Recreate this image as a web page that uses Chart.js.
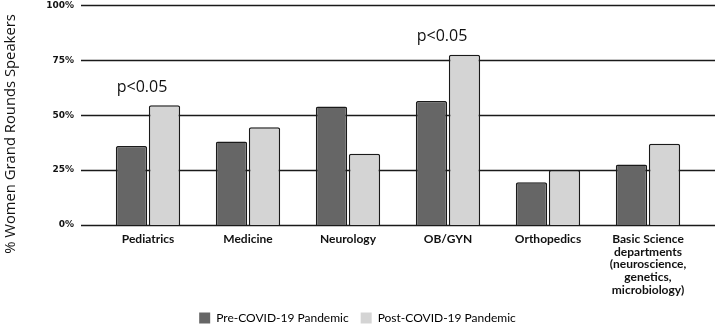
<!DOCTYPE html>
<html>
<head>
<meta charset="utf-8">
<script src="https://cdn.jsdelivr.net/npm/chart.js@4"></script>
<style>
  html, body { margin: 0; padding: 0; background: #fff; }
  #wrap { width: 715px; height: 324px; }
</style>
</head>
<body>
<div id="wrap"><canvas id="speakersChart"></canvas></div>
<script>
// data
var categories = ['Pediatrics', 'Medicine', 'Neurology', 'OB/GYN', 'Orthopedics',
    ['Basic Science', 'departments', '(neuroscience,', 'genetics,', 'microbiology)']];
var preCovid = [36, 38, 54, 56.5, 19.5, 27.5];
var postCovid = [54.5, 44.5, 32.5, 77.5, 25, 37];
var yTicks = [0, 25, 50, 75, 100];
var significance = ['p<0.05', '', '', 'p<0.05', '', ''];

// grid lines run past the plot area, like the original figure
var fullGrid = {
    id: 'fullGrid',
    beforeDatasetsDraw: function (chart) {
        var ctx = chart.ctx, y = chart.scales.y;
        ctx.save();
        ctx.strokeStyle = '#1a1a1a';
        ctx.lineWidth = 1.7;
        yTicks.forEach(function (t) {
            var py = Math.round(y.getPixelForValue(t)) + 0.5;
            ctx.beginPath();
            ctx.moveTo(81, py);
            ctx.lineTo(chart.width, py);
            ctx.stroke();
        });
        ctx.restore();
    }
};

var extras = {
    id: 'extras',
    afterDatasetsDraw: function (chart) {
        var ctx = chart.ctx, x = chart.scales.x, y = chart.scales.y;
        ctx.save();
        ctx.fillStyle = '#111';
        ctx.font = '16px "Open Sans"';
        ctx.textAlign = 'center';
        ctx.textBaseline = 'middle';
        significance.forEach(function (s, i) {
            if (!s) return;
            ctx.fillText(s, x.getPixelForValue(i) - 6, y.getPixelForValue(postCovid[i]) - 18);
        });
        // axis title
        ctx.translate(11, 134);
        ctx.rotate(-Math.PI / 2);
        ctx.font = '14.8px "Open Sans"';
        ctx.fillText('% Women Grand Rounds Speakers', 0, 0);
        ctx.restore();
    }
};

document.addEventListener('DOMContentLoaded', function () {
    var ctx = document.getElementById('speakersChart').getContext('2d');
    new Chart(ctx, {
        type: 'bar',
        data: {
            labels: categories,
            datasets: [{
                label: 'Pre-COVID-19 Pandemic',
                data: preCovid,
                backgroundColor: '#666666',
                borderColor: '#1a1a1a',
                borderWidth: 1.5,
                borderRadius: 2,
                borderSkipped: 'bottom'
            }, {
                label: 'Post-COVID-19 Pandemic',
                data: postCovid,
                backgroundColor: '#d4d4d4',
                borderColor: '#1a1a1a',
                borderWidth: 1.5,
                borderRadius: 2,
                borderSkipped: 'bottom'
            }]
        },
        options: {
            responsive: true,
            maintainAspectRatio: false,
            animation: false,
            layout: { padding: { top: 0, right: 0, bottom: -10, left: 0 } },
            datasets: { bar: { categoryPercentage: 0.66, barPercentage: 0.95 } },
            plugins: {
                legend: {
                    position: 'bottom',
                    labels: {
                        color: '#111',
                        font: { family: 'Lato', size: 12 },
                        boxWidth: 11,
                        boxHeight: 11,
                        padding: 12,
                        generateLabels: function (chart) {
                            return chart.data.datasets.map(function (ds, i) {
                                return {
                                    text: ds.label,
                                    fillStyle: ds.backgroundColor,
                                    strokeStyle: ds.backgroundColor,
                                    lineWidth: 0,
                                    datasetIndex: i
                                };
                            });
                        }
                    }
                },
                tooltip: { enabled: false }
            },
            scales: {
                x: {
                    grid: { display: false, drawTicks: false },
                    border: { display: false },
                    ticks: {
                        color: '#111',
                        font: { family: 'Lato', size: 12, weight: 'bold', lineHeight: 1.05 },
                        padding: 8,
                        maxRotation: 0,
                        autoSkip: false
                    },
                    afterFit: function (scale) { scale.height = 75; }
                },
                y: {
                    min: 0,
                    max: 100,
                    afterBuildTicks: function (scale) {
                        scale.ticks = yTicks.map(function (v) { return { value: v }; });
                    },
                    grid: { display: false, drawTicks: true, tickLength: 24 },
                    border: { display: false },
                    ticks: {
                        color: '#111',
                        font: { family: 'DejaVu Sans', size: 9, weight: 'bold' },
                        padding: 0,
                        callback: function (v) { return v + '%'; }
                    },
                    afterFit: function (scale) { scale.width = 98; }
                },
                // empty right-hand axis, only reserves the margin past the last group
                yRight: {
                    position: 'right',
                    grid: { display: false },
                    border: { display: false },
                    ticks: { display: false },
                    afterFit: function (scale) { scale.width = 17; }
                }
            }
        },
        plugins: [fullGrid, extras]
    });
});
</script>
</body>
</html>
